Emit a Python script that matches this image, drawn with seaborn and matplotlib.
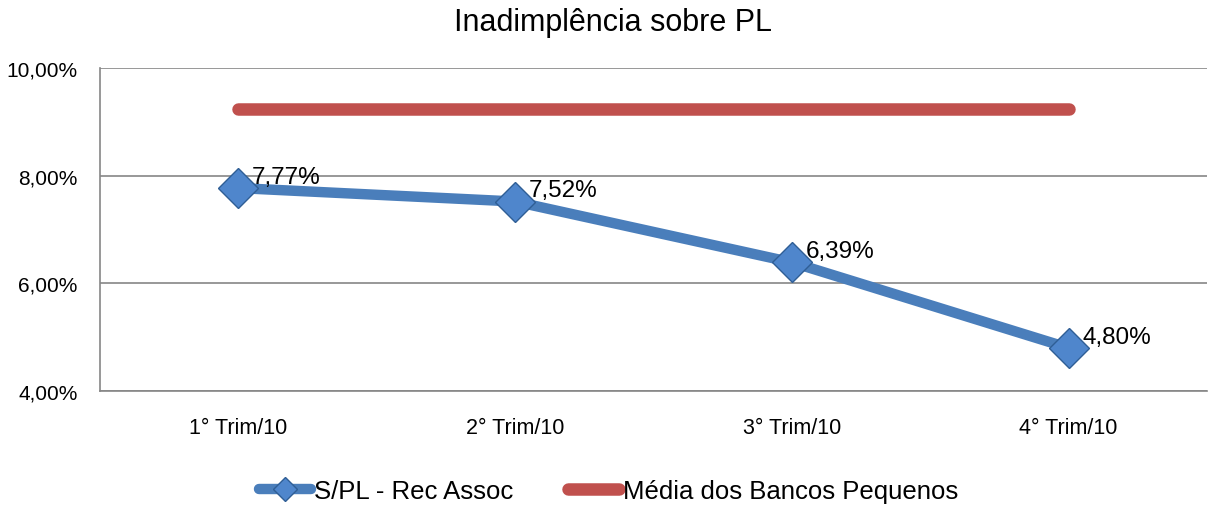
import matplotlib
matplotlib.use('Agg')
import matplotlib.pyplot as plt
import seaborn as sns
import pandas as pd
from matplotlib.lines import Line2D
from matplotlib.ticker import FuncFormatter

# Dados do gráfico
trimestres = ['1° Trim/10', '2° Trim/10', '3° Trim/10', '4° Trim/10']
spl_rec_assoc = [7.77, 7.52, 6.39, 4.80]
media_bancos_pequenos = [9.24, 9.24, 9.24, 9.24]
rotulos = ['7,77%', '7,52%', '6,39%', '4,80%']
y_ticks = [4, 6, 8, 10]

AZUL = '#4A7EBB'
VERMELHO = '#C0504D'
CINZA = '#868686'

sns.set_style('white')
plt.rcParams['font.family'] = ['Liberation Sans', 'DejaVu Sans']
plt.rcParams['text.color'] = 'black'
plt.rcParams['xtick.color'] = 'black'
plt.rcParams['ytick.color'] = 'black'

df = pd.DataFrame({'trimestre': trimestres, 'spl': spl_rec_assoc,
                   'media': media_bancos_pequenos})

fig = plt.figure(figsize=(12.1, 5.06), dpi=100)
ax = fig.add_axes([0.0826, 0.2253, 0.9149, 0.6383])

sns.lineplot(data=df, x='trimestre', y='media', ax=ax, color=VERMELHO,
             linewidth=9, solid_capstyle='round', zorder=2)
sns.lineplot(data=df, x='trimestre', y='spl', ax=ax, color=AZUL,
             linewidth=7.5, marker='D', markersize=20,
             markerfacecolor='#4F86CC', markeredgecolor='#2F5E95',
             markeredgewidth=1, zorder=3)

for i, (v, r) in enumerate(zip(spl_rec_assoc, rotulos)):
    ax.annotate(r, (i, v), xytext=(10, 8), textcoords='offset points',
                ha='left', va='center', fontsize=17.5, color='black', zorder=4)

ax.set_xlim(-0.5, 3.5)
ax.set_ylim(4, 10)
ax.set_yticks(y_ticks)
ax.yaxis.set_major_formatter(FuncFormatter(lambda v, p: f'{v:.2f}%'.replace('.', ',')))
ax.grid(axis='y', color=CINZA, linewidth=1.2)
ax.set_axisbelow(True)
for s in ['top', 'right']:
    ax.spines[s].set_visible(False)
for s in ['left', 'bottom']:
    ax.spines[s].set_color(CINZA)
    ax.spines[s].set_linewidth(1.2)
ax.tick_params(axis='y', length=0, pad=16, labelsize=15)
ax.tick_params(axis='x', length=0, pad=19, labelsize=15.5)
ax.set_xlabel('')
ax.set_ylabel('')

fig.suptitle('Inadimplência sobre PL', x=0.507, y=0.985, fontsize=22, color='black')

handles = [
    Line2D([], [], color=AZUL, linewidth=7.5, marker='D', markersize=12,
           markerfacecolor='#4F86CC', markeredgecolor='#2F5E95', solid_capstyle='round'),
    Line2D([], [], color=VERMELHO, linewidth=9, solid_capstyle='round'),
]
fig.legend(handles, ['S/PL - Rec Assoc', 'Média dos Bancos Pequenos'],
           loc='center', bbox_to_anchor=(0.503, 0.028), ncol=2, frameon=False,
           fontsize=18.5, handlelength=2.0, handletextpad=0.15, columnspacing=2.1)

fig.savefig('out.png', dpi=100)
